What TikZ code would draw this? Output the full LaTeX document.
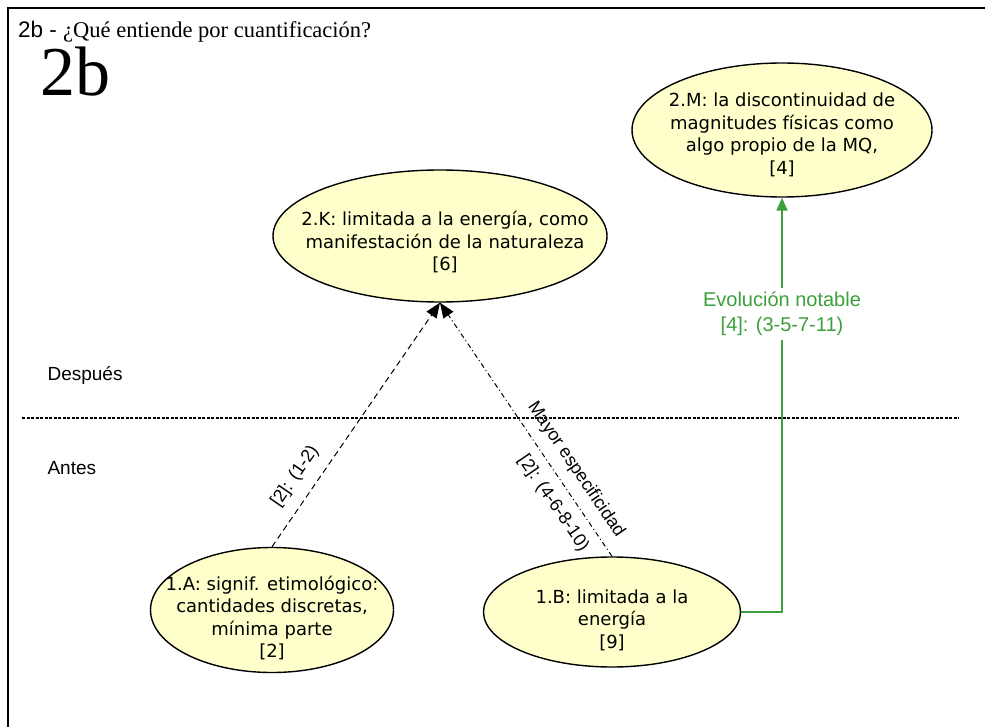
\documentclass[tikz,border=0pt]{standalone}
\usepackage{fontspec}
\setmainfont{Liberation Serif}
\newfontfamily\arialf{Liberation Sans}
\newfontfamily\nodef{DejaVu Sans}
\usetikzlibrary{shapes.geometric,arrows.meta}
\definecolor{nodefill}{RGB}{255,255,204}
\definecolor{evgreen}{RGB}{60,160,60}
\begin{document}
\begin{tikzpicture}[x=1pt,y=-1pt,
  concept/.style={ellipse, draw=black, line width=1.4pt, fill=nodefill, inner sep=0pt},
  ctext/.style={align=center, inner sep=0pt, font=\nodef\fontsize{18}{22.5}\selectfont},
  conn/.style={line width=1pt, -{Triangle[length=15pt,width=12pt]}},
  lbl/.style={font=\arialf\fontsize{18}{21}\selectfont, sloped, inner sep=3pt},
  side/.style={anchor=west, font=\arialf\fontsize{19}{22}\selectfont},
]
\useasboundingbox (0,0) rectangle (985,727);
\fill[white] (0,0) rectangle (985,727);
\draw[line width=2pt] (8,730) -- (8,8) -- (990,8);
\node[anchor=base west, inner sep=0pt, font=\fontsize{22.5}{26}\selectfont] (title) at (18,38) {{\arialf 2b - }¿Qué entiende por cuantificación?};
\node[anchor=base west, inner sep=0pt, font=\fontsize{70}{72}\selectfont] (big) at (40,96) {2b};
\coordinate (sepL) at (22,418);
\coordinate (sepR) at (959,418);
\draw[dash pattern=on 3pt off 1.5pt, line width=1.2pt] (sepL) -- (sepR);
\node[side] (desp) at (44,375) {Después};
\node[side] (antes) at (44,468) {Antes};
\node[concept, minimum width=300, minimum height=134] (M) at (782,130) {};
\node[ctext] (Mt) at ([yshift=-5pt]M.center) {2.M: la discontinuidad de\\magnitudes físicas como\\algo propio de la MQ,\\{[4]}};
\node[concept, minimum width=334, minimum height=132] (K) at (440,236) {};
\node[ctext] (Kt) at ([xshift=5pt,yshift=-6pt]K.center) {2.K: limitada a la energía, como\\manifestación de la naturaleza\\{[6]}};
\node[concept, minimum width=243, minimum height=125] (A) at (272,610) {};
\node[ctext] (At) at ([yshift=-8pt]A.center) {1.A: signif. etimológico:\\cantidades discretas,\\mínima parte\\{[2]}};
\node[concept, minimum width=257, minimum height=110] (B) at (612,612) {};
\node[ctext] (Bt) at ([yshift=-8pt]B.center) {1.B: limitada a la\\energía\\{[9]}};
\draw[conn, dash pattern=on 6pt off 4pt] (A.north) -- node[lbl, pos=0.24, above=9pt] (l1) {[2]: (1-2)} (K.south);
\draw[conn, dash pattern=on 5pt off 3pt on 1pt off 3pt] (B.north) -- node[lbl, pos=0.30, above=7pt] (l2) {Mayor especificidad} node[lbl, pos=0.25, below=7pt] (l3) {[2]: (4-6-8-10)} (K.south);
\draw[evgreen, line width=1.8pt, -{Triangle[length=13pt,width=11pt]}] (B.east) -| node[pos=0.86, fill=white, text=evgreen, align=center, inner sep=4pt, font=\arialf\fontsize{20}{25}\selectfont] (evlbl) {Evolución notable\\{[4]}: (3-5-7-11)} (M.south);
\end{tikzpicture}
\end{document}
